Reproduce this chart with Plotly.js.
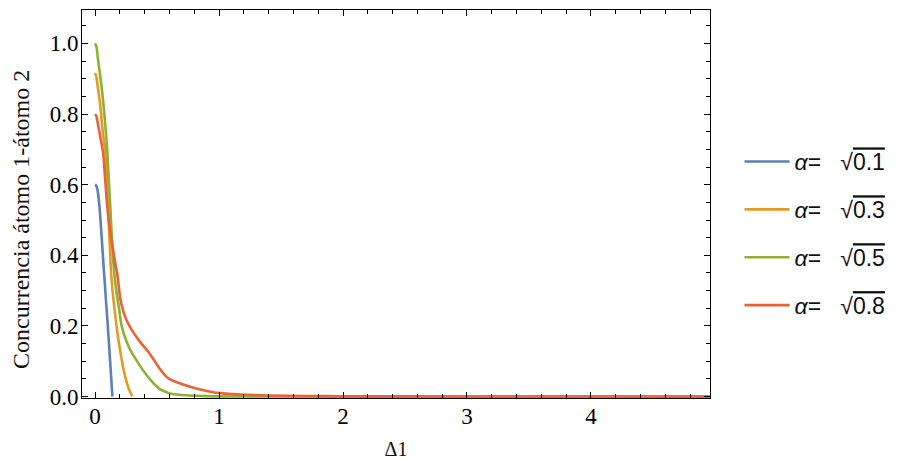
<!DOCTYPE html>
<html>
<head>
<meta charset="utf-8">
<script src="https://cdn.plot.ly/plotly-3.0.1.min.js"></script>
<style>
  html, body { margin: 0; padding: 0; background: #fff; }
  #chart { width: 907px; height: 460px; }
</style>
</head>
<body>
<div id="chart"></div>
<script>
// Concurrence between atom 1 and atom 2 as a function of the detuning Δ1,
// one curve per coupling α = √a.
const alphaSquared = ['0.1', '0.3', '0.5', '0.8'];
const lineColors = ['#5E81B5', '#E19C24', '#8FB032', '#EB6235'];

const deltaBlue = [0, 0.01, 0.02, 0.03, 0.04, 0.05, 0.06, 0.07, 0.08, 0.09, 0.10, 0.11, 0.12, 0.13, 0.14];
const concBlue  = [0.600, 0.597, 0.585, 0.560, 0.520, 0.470, 0.418, 0.365, 0.315, 0.265, 0.215, 0.163, 0.110, 0.056, 0.0];

const deltaOrange = [0, 0.01, 0.02, 0.04, 0.065, 0.083, 0.10, 0.115, 0.13, 0.14, 0.15, 0.16, 0.172, 0.192, 0.212, 0.232, 0.252, 0.272, 0.293, 0.30];
const concOrange  = [0.916, 0.908, 0.882, 0.832, 0.742, 0.694, 0.575, 0.46, 0.35, 0.305, 0.27, 0.24, 0.205, 0.153, 0.111, 0.074, 0.045, 0.022, 0.006, 0.0];

const deltaGreen = [0, 0.012, 0.024, 0.051, 0.078, 0.099, 0.115, 0.13, 0.142, 0.153, 0.165, 0.18, 0.191, 0.212, 0.232, 0.252, 0.285, 0.32, 0.363, 0.414, 0.444, 0.484, 0.524, 0.565, 0.605, 0.68, 0.766, 0.9, 1.1, 1.5, 2.5, 3.5, 4.96];
const concGreen  = [1.0, 0.99, 0.955, 0.883, 0.789, 0.694, 0.59, 0.49, 0.41, 0.36, 0.318, 0.28, 0.257, 0.205, 0.178, 0.158, 0.132, 0.111, 0.087, 0.062, 0.049, 0.033, 0.021, 0.014, 0.009, 0.005, 0.003, 0.0012, 0.0004, 0.0001, 0, 0, 0];

const deltaRed = [0, 0.01, 0.02, 0.04, 0.065, 0.08, 0.094, 0.11, 0.13, 0.148, 0.165, 0.18, 0.205, 0.23, 0.26, 0.31, 0.363, 0.444, 0.524, 0.58, 0.65, 0.766, 0.9, 1.03, 1.17, 1.4, 1.7, 2.0, 2.5, 3.0, 4.0, 4.96];
const concRed  = [0.80, 0.795, 0.778, 0.74, 0.69, 0.625, 0.558, 0.5, 0.45, 0.41, 0.375, 0.346, 0.275, 0.24, 0.212, 0.181, 0.155, 0.12, 0.078, 0.055, 0.042, 0.028, 0.016, 0.009, 0.006, 0.003, 0.0015, 0.001, 0.0005, 0.0003, 0.0001, 0];

const xTickVals = [0, 1, 2, 3, 4];
const yTickVals = [0, 0.2, 0.4, 0.6, 0.8, 1.0];

const series = [
  [deltaBlue, concBlue],
  [deltaOrange, concOrange],
  [deltaGreen, concGreen],
  [deltaRed, concRed]
];

const traces = series.map(([x, y], i) => ({
  type: 'scatter',
  mode: 'lines',
  x: x,
  y: y,
  name: '<i>α</i>=\u00a0\u00a0\u00a0√<span style="text-decoration:overline">' + alphaSquared[i] + '</span>',
  legendgroup: 'g' + i,
  line: { color: lineColors[i], width: 2.6, shape: 'spline', smoothing: 0.8 },
  hoverinfo: 'skip'
}));

const serif = 'Liberation Serif, Times New Roman, serif';

const axisCommon = {
  showline: true,
  linecolor: '#000',
  linewidth: 1,
  mirror: 'allticks',
  ticks: 'inside',
  ticklen: 6,
  tickwidth: 1,
  tickcolor: '#000',
  showgrid: false,
  zeroline: false,
  tickfont: { family: serif, size: 23, color: '#000' },
  fixedrange: true
};

const layout = {
  width: 907,
  height: 460,
  margin: { l: 82, r: 197, t: 10, b: 62 },
  paper_bgcolor: '#fff',
  plot_bgcolor: '#fff',
  showlegend: true,
  xaxis: Object.assign({}, axisCommon, {
    range: [-0.105, 4.96],
    tickvals: xTickVals,
    ticktext: xTickVals.map(String),
    ticklabelstandoff: -3,
    minor: { dtick: 0.2, tick0: 0, ticks: 'inside', ticklen: 4, tickwidth: 1, tickcolor: '#000', showgrid: false },
    title: { text: 'Δ1', font: { family: serif, size: 20, color: '#111' }, standoff: 14 }
  }),
  yaxis: Object.assign({}, axisCommon, {
    range: [-0.004, 1.0946],
    tickvals: yTickVals,
    ticktext: yTickVals.map(v => v.toFixed(1)),
    ticklabelstandoff: -2,
    minor: { dtick: 0.05, tick0: 0, ticks: 'inside', ticklen: 4, tickwidth: 1, tickcolor: '#000', showgrid: false }
  }),
  legend: {
    x: 1.047,
    y: 0.665,
    xanchor: 'left',
    yanchor: 'top',
    traceorder: 'grouped',
    tracegroupgap: 15,
    itemwidth: 45,
    bgcolor: 'rgba(0,0,0,0)',
    font: { family: 'Liberation Sans, Arial, sans-serif', size: 23, color: '#111' }
  },
  annotations: [{
    xref: 'paper', yref: 'paper',
    x: -0.098, y: 0.46,
    xanchor: 'center', yanchor: 'middle',
    textangle: -90,
    showarrow: false,
    text: 'Concurrencia átomo 1-átomo 2',
    font: { family: serif, size: 24, color: '#111' }
  }]
};

Plotly.newPlot('chart', traces, layout, { displayModeBar: false, staticPlot: true });
</script>
</body>
</html>
